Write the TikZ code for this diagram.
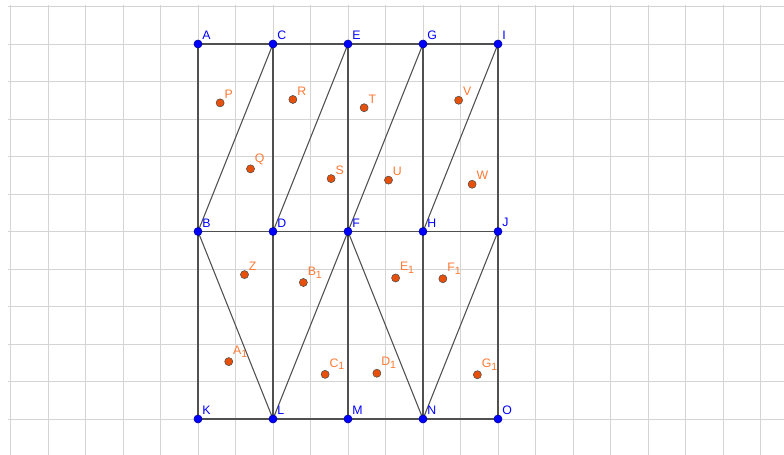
\documentclass[tikz,border=0pt]{standalone}
\usepackage{fontspec}
\setmainfont{Liberation Sans}
\definecolor{ptblue}{RGB}{0,0,255}
\definecolor{ptorange}{RGB}{230,80,10}
\definecolor{lblorange}{RGB}{255,120,50}
\definecolor{segcol}{RGB}{80,80,80}
\tikzset{
  gridline/.style={draw=black!17,line width=.5pt},
  seg/.style={draw=segcol,line width=.6pt},
  bdot/.style={circle,fill=ptblue,draw=ptblue!60!black,line width=.3pt,inner sep=0pt,minimum size=4.6pt},
  odot/.style={circle,fill=ptorange,draw=black!70,line width=.3pt,inner sep=0pt,minimum size=4.6pt},
  blbl/.style={text=ptblue,font=\fontsize{7}{8}\selectfont,anchor=south west,inner sep=0pt},
  olbl/.style={text=lblorange,font=\fontsize{7}{8}\selectfont,anchor=south west,inner sep=0pt}
}
\newcommand{\sub}[1]{\raisebox{-.45ex}{\fontsize{6}{6}\selectfont#1}}
\newcommand{\opt}[4]{\node[odot,label={[olbl,label distance=.8pt]45:#4}] (#3) at (#1,#2){};}

\begin{document}
\begin{tikzpicture}[x=.75cm,y=.75cm]
\useasboundingbox (-5.28,-0.96) rectangle (15.627,11.173);
\draw[gridline,step=1] (-5.07,-0.96) grid (15.627,11.04);
\foreach \n/\x/\y in {A/0/10,C/2/10,E/4/10,G/6/10,I/8/10,B/0/5,D/2/5,F/4/5,H/6/5,J/8/5,K/0/0,L/2/0,M/4/0,N/6/0,O/8/0}
  \coordinate (\n) at (\x,\y);
% frame and cuts
\draw[seg] (A)--(I) (B)--(J) (K)--(O);
\draw[seg] (A)--(K) (C)--(L) (E)--(M) (G)--(N) (I)--(O);
\draw[seg] (B)--(C) (D)--(E) (F)--(G) (H)--(I);
\draw[seg] (B)--(L)--(F)--(N)--(J);
\foreach \n in {A,C,E,G,I,B,D,F,H,J,K,L,M,N,O}
  \node[bdot,label={[blbl,label distance=.8pt]45:\n}] (d\n) at (\n){};
% points inside the pieces
\opt{0.59}{8.43}{P}{P}\opt{2.53}{8.52}{R}{R}\opt{4.43}{8.30}{T}{T}\opt{6.95}{8.50}{V}{V}
\opt{1.40}{6.67}{Q}{Q}\opt{3.55}{6.41}{S}{S}\opt{5.08}{6.37}{U}{U}\opt{7.31}{6.26}{W}{W}
\opt{1.24}{3.85}{Z}{Z}\opt{2.81}{3.64}{B1}{B\sub{1}}\opt{5.27}{3.76}{E1}{E\sub{1}}\opt{6.53}{3.74}{F1}{F\sub{1}}
\opt{0.82}{1.53}{A1}{A\sub{1}}\opt{3.39}{1.19}{C1}{C\sub{1}}\opt{4.77}{1.22}{D1}{D\sub{1}}\opt{7.45}{1.18}{G1}{G\sub{1}}
\end{tikzpicture}
\end{document}
